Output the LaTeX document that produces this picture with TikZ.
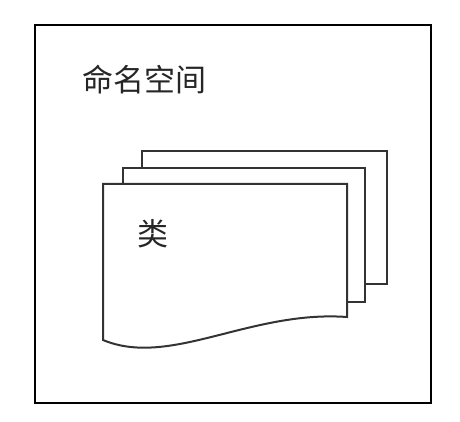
\documentclass[tikz,border=0pt]{standalone}
\usepackage{fontspec}
\newfontfamily\cjk{Noto Sans CJK SC}

\begin{document}
\begin{tikzpicture}[
		x=1pt, y=-1pt,
		frame/.style = {draw=black, line width=2.2pt},
		page/.style = {draw=black!80, line width=2pt, fill=white, line join=miter},
		label/.style = {font=\cjk\fontsize{31}{31}\selectfont, inner sep=0pt, text=black!85}
	]
	\useasboundingbox (0,0) rectangle (460,422);
	% Outer namespace box.
	\draw[frame] (35,25) rectangle (431,403);
	\node[label] (ns) at (144,80) {命名空间};
	% Stacked class pages, back to front.
	\draw[page] (142,151) rectangle (387,284);
	\draw[page] (123,168) rectangle (365,302);
	\draw[page] (103,340) -- (103,184) -- (347,184) -- (347,317)
		.. controls (250,310) and (170,368) .. (103,340) -- cycle;
	\node[label] (cls) at (153,234) {类};
\end{tikzpicture}
\end{document}
